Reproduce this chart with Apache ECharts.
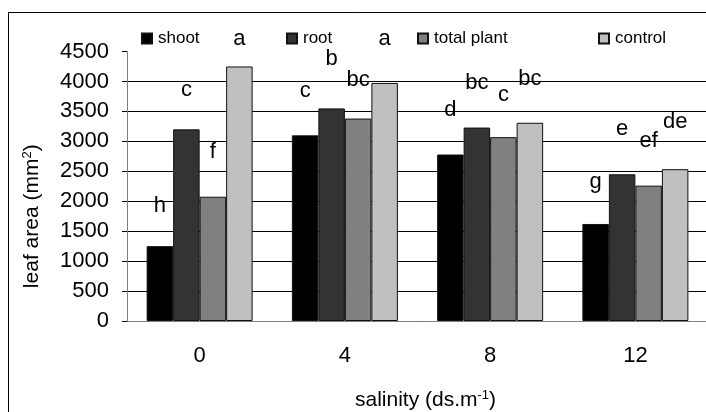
<!DOCTYPE html>
<html>
<head>
<meta charset="utf-8">
<script src="https://cdn.jsdelivr.net/npm/echarts@6/dist/echarts.min.js"></script>
<style>
html, body { margin: 0; padding: 0; background: #fff; }
#main { width: 706px; height: 412px; }
</style>
</head>
<body>
<div id="main"></div>
<script>
var salinity = ['0', '4', '8', '12'];
var seriesNames = ['shoot', 'root', 'total plant', 'control'];
var shoot = [1250, 3100, 2780, 1620];
var root = [3200, 3550, 3230, 2450];
var totalPlant = [2075, 3380, 3070, 2260];
var control = [4250, 3975, 3310, 2535];
var shootLetters = ['h', 'c', 'd', 'g'];
var rootLetters = ['c', 'b', 'bc', 'e'];
var totalLetters = ['f', 'bc', 'c', 'ef'];
var controlLetters = ['a', 'a', 'bc', 'de'];
var yTicks = [0, 500, 1000, 1500, 2000, 2500, 3000, 3500, 4000, 4500];

// how far each letter sits above its bar (px)
var shootGap = [29, 33, 34, 31];
var rootGap = [28, 38, 34, 34];
var totalGap = [34, 28, 31, 34];
var controlGap = [17, 33, 33, 36];

var barColors = ['#000000', '#333333', '#808080', '#c0c0c0'];
var legendLeft = [141, 286, 417, 598];
var font = 'Liberation Sans, Arial, sans-serif';

function makeData(values, letters, gaps) {
	var out = [];
	for (var i = 0; i < values.length; i++) {
		out.push({
			value: values[i],
			label: { formatter: letters[i], distance: gaps[i] }
		});
	}
	return out;
}

var allValues = [shoot, root, totalPlant, control];
var allLetters = [shootLetters, rootLetters, totalLetters, controlLetters];
var allGaps = [shootGap, rootGap, totalGap, controlGap];

var series = [];
var legends = [];
for (var s = 0; s < 4; s++) {
	series.push({
		name: seriesNames[s],
		type: 'bar',
		barWidth: 26.5,
		barGap: 0,
		itemStyle: { color: barColors[s], borderColor: '#111', borderWidth: 1 },
		label: {
			show: true,
			position: 'top',
			color: '#000',
			fontFamily: font,
			fontSize: 22
		},
		data: makeData(allValues[s], allLetters[s], allGaps[s])
	});
	legends.push({
		data: [seriesNames[s]],
		left: legendLeft[s],
		top: 30,
		padding: 0,
		icon: 'rect',
		itemWidth: 10,
		itemHeight: 10,
		selectedMode: false,
		textStyle: { fontFamily: font, fontSize: 17, color: '#000', padding: [0, 0, 0, 1] }
	});
}

var splitColors = [];
for (var k = 0; k < yTicks.length; k++) {
	splitColors.push(k == yTicks.length - 1 ? 'rgba(0,0,0,0)' : '#000');
}

var chart = echarts.init(document.getElementById('main'), null, { renderer: 'canvas' });
var option = {
	animation: false,
	backgroundColor: '#fff',
	textStyle: { fontFamily: font },
	graphic: [{
		type: 'rect',
		shape: { x: 8.5, y: 12.5, width: 800, height: 500 },
		style: { fill: null, stroke: '#000', lineWidth: 1 },
		z: -1
	}],
	legend: legends,
	grid: { left: 127, right: -2, top: 51.5, bottom: 91, outerBoundsMode: 'none', containLabel: false },
	xAxis: {
		type: 'category',
		data: salinity,
		name: '{t|salinity (ds.m}{s|-1}{t|)}',
		nameLocation: 'middle',
		nameGap: 68,
		nameTextStyle: {
			padding: [0, 0, 0, 16],
			rich: {
				t: { fontFamily: font, fontSize: 21, color: '#000' },
				s: { fontFamily: font, fontSize: 13, color: '#000', verticalAlign: 'top', padding: [0, 0, 9, 0] }
			}
		},
		axisLine: { lineStyle: { color: '#808080', width: 1 } },
		axisTick: { alignWithLabel: false, length: 5, lineStyle: { color: '#808080' } },
		axisLabel: { fontFamily: font, fontSize: 22, color: '#000', margin: 24 }
	},
	yAxis: {
		type: 'value',
		min: 0,
		max: 4500,
		interval: 500,
		name: '{t|leaf area (mm}{s|2}{t|)}',
		nameLocation: 'middle',
		nameGap: 84,
		nameTextStyle: {
			padding: [0, 60, 0, 0],
			rich: {
				t: { fontFamily: font, fontSize: 21, color: '#000' },
				s: { fontFamily: font, fontSize: 13, color: '#000', verticalAlign: 'top', padding: [0, 0, 9, 0] }
			}
		},
		axisLine: { show: true, lineStyle: { color: '#808080', width: 1 } },
		axisTick: { show: true, length: 5, lineStyle: { color: '#000' } },
		axisLabel: {
			fontFamily: font, fontSize: 22, color: '#000', margin: 18,
			formatter: function (v) { return String(v); }
		},
		splitLine: { show: true, lineStyle: { color: splitColors, width: 1 } }
	},
	series: series
};
chart.setOption(option);
</script>
</body>
</html>
